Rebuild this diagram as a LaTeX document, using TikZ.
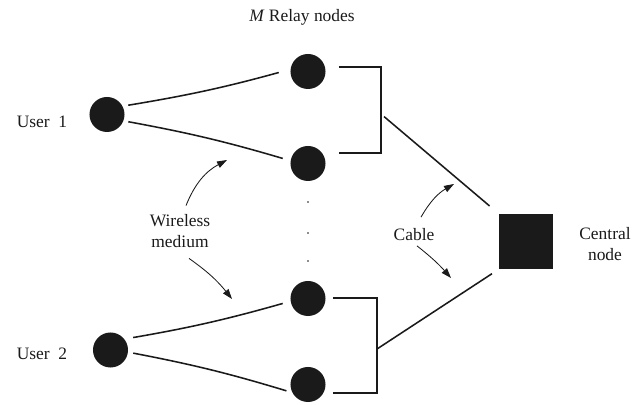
\documentclass[tikz,border=0pt]{standalone}
\usepackage{fontspec}
\setmainfont{Liberation Serif}
\usepackage{xcolor}
\usepackage{tikz}
\usetikzlibrary{positioning, arrows.meta, calc}
\definecolor{inkblack}{HTML}{1A1A1A}

\begin{document}
\begin{tikzpicture}[x=0.025cm, y=-0.025cm,
    terminal/.style={circle, fill=inkblack, minimum size=0.875cm, inner sep=0pt},
    hub/.style={rectangle, fill=inkblack, minimum width=1.35cm, minimum height=1.375cm, inner sep=0pt},
    txt/.style={font=\fontsize{12.4}{15}\selectfont, align=center, inner sep=6pt, text=inkblack},
    link/.style={line width=1.1pt, draw=inkblack},
    pointer/.style={line width=0.6pt, draw=inkblack, -{Triangle[length=0.25cm, width=0.17cm]}}]
    \useasboundingbox (0,0) rectangle (640,405);

    \node[terminal] (user1) at (107,114.5) {};
    \node[terminal] (user2) at (110.5,350) {};
    \node[terminal] (relay1) at (308,71.5) {};
    \node[terminal] (relay2) at (308,163.5) {};
    \node[terminal] (relay3) at (308,298.5) {};
    \node[terminal] (relay4) at (308,384.5) {};
    \node[hub] (central) at (526,241.5) {};
    \foreach \y in {202,233,261}
        \fill[inkblack] (308,\y) circle (0.7pt);

    \node[txt] (title) at (302,17) {\textit{M} Relay nodes};
    \node[txt] (user1label) at (42,122) {User~~1};
    \node[txt] (user2label) at (42,353.5) {User~~2};
    \node[txt] (centrallabel) at (605,244) {Central\\node};
    \node[txt] (wireless) at (180,231) {Wireless\\medium};
    \node[txt] (cable) at (414,235) {Cable};

    \coordinate (joinA) at (381,114);
    \coordinate (joinB) at (377,349);
    \coordinate (wtipA) at (227,160);
    \coordinate (wtipB) at (232,299);
    \coordinate (ctipA) at (454,184);
    \coordinate (ctipB) at (451,278);

    \draw[link, shorten <=0.14cm, shorten >=0.3cm] (user1.28) to[bend right=3] (relay1.173);
    \draw[link, shorten <=0.12cm, shorten >=0.2cm] (user1.339) to[bend left=3] (relay2.171);
    \draw[link, shorten <=0.22cm, shorten >=0.2cm] (user2.38) to[bend right=3] (relay3.189);
    \draw[link, shorten <=0.13cm, shorten >=0.15cm] (user2.353) to[bend left=3] (relay4.207);

    \draw[link] ($(relay1.east)+(13,-4.5)$) -| (joinA) |- ($(relay2.east)+(13,-10.5)$);
    \draw[link] ($(relay3.east)+(7.5,-0.5)$) -| (joinB) |- ($(relay4.east)+(7.5,8.5)$);
    \draw[link, shorten <=0.1cm, shorten >=0.3cm] (joinA) -- (central.north west);
    \draw[link, shorten >=0.2cm] (joinB) -- (central.south west);

    \draw[pointer] ($(wireless.north)+(6,0)$) to[bend left=20] (wtipA);
    \draw[pointer] ($(wireless.south)+(9,2)$) to[bend left=8] (wtipB);
    \draw[pointer] ($(cable.north)+(7,-3)$) to[bend left=15] (ctipA);
    \draw[pointer] ($(cable.south)+(3,-4)$) to[bend left=5] (ctipB);
\end{tikzpicture}
\end{document}
